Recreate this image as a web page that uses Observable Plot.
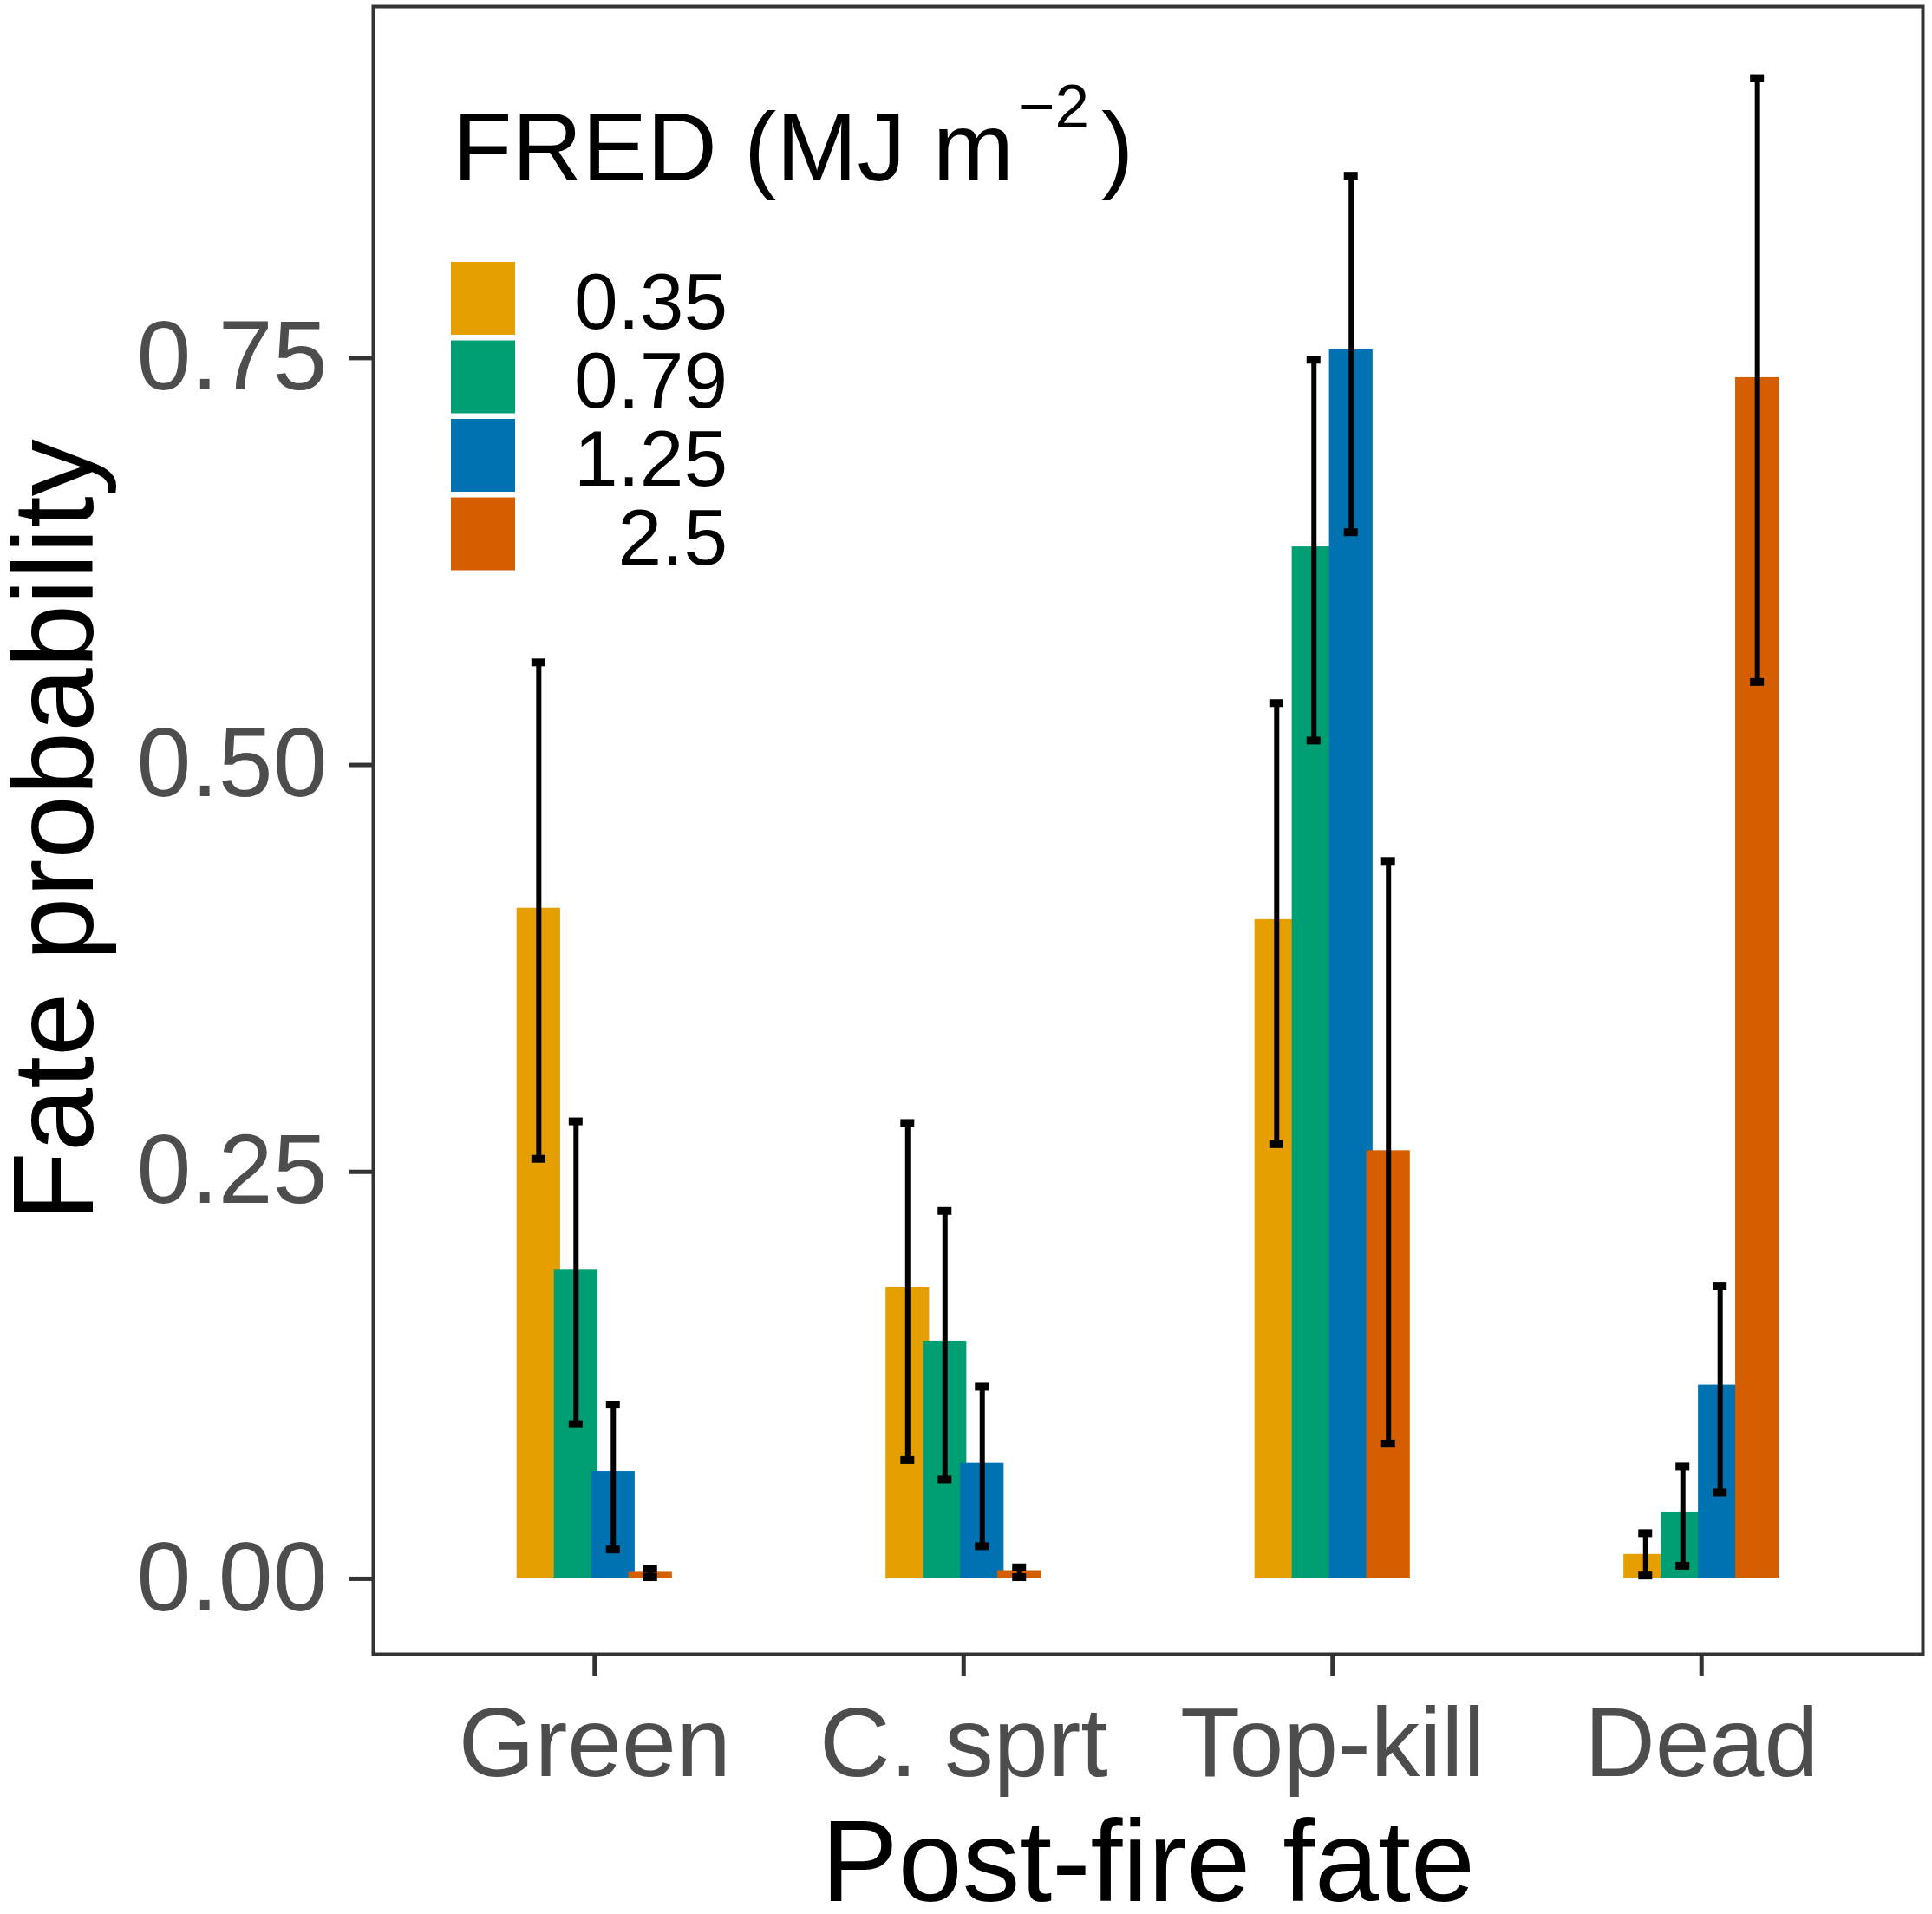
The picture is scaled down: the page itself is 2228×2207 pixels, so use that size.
<!DOCTYPE html>
<html>
<head>
<meta charset="utf-8">
<script src="https://cdn.jsdelivr.net/npm/d3@7"></script>
<script src="https://cdn.jsdelivr.net/npm/@observablehq/plot@0.6"></script>
<style>
  html, body { margin: 0; padding: 0; background: #ffffff; }
  #chart { width: 2228px; height: 2207px; }
  svg { font-family: "Liberation Sans", Arial, sans-serif; }
</style>
</head>
<body>
<div id="chart"></div>
<script>
// ---- Data ----
const categories = ["Green", "C. sprt", "Top-kill", "Dead"];
const fredLevels = ["0.35", "0.79", "1.25", "2.5"];
const fredColors = ["#E69F00", "#009E73", "#0072B2", "#D55E00"];

// Fate probability per FRED level, ordered as categories
const prob035 = [0.412, 0.179, 0.405, 0.015];
const prob079 = [0.190, 0.146, 0.634, 0.041];
const prob125 = [0.066, 0.071, 0.755, 0.119];
const prob250 = [0.004, 0.005, 0.263, 0.738];

// Lower / upper error-bar limits
const lower035 = [0.258, 0.073, 0.267, 0.002];
const upper035 = [0.563, 0.280, 0.538, 0.028];
const lower079 = [0.095, 0.061, 0.515, 0.008];
const upper079 = [0.281, 0.226, 0.749, 0.069];
const lower125 = [0.018, 0.020, 0.643, 0.053];
const upper125 = [0.107, 0.118, 0.862, 0.180];
const lower250 = [0.001, 0.001, 0.083, 0.551];
const upper250 = [0.006, 0.007, 0.441, 0.922];

const yTicks = [0, 0.25, 0.5, 0.75];

// ---- Build table ----
const probs = [prob035, prob079, prob125, prob250];
const lowers = [lower035, lower079, lower125, lower250];
const uppers = [upper035, upper079, upper125, upper250];
const dodgeStep = 0.101;   // dodge spacing (x units)
const barWidth = 0.118;    // bar width (x units), bars overlap slightly like the original

const rows = [];
categories.forEach((cat, ci) => {
  fredLevels.forEach((lev, si) => {
    rows.push({
      category: cat,
      fred: lev,
      pos: ci + (si - (fredLevels.length - 1) / 2) * dodgeStep,
      value: probs[si][ci],
      lo: lowers[si][ci],
      hi: uppers[si][ci]
    });
  });
});

const tickGrey = "#333333";
const textGrey = "#4d4d4d";

const chart = Plot.plot({
  width: 2228,
  height: 2207,
  marginLeft: 430,
  marginRight: 11,
  marginTop: 7,
  marginBottom: 300,
  style: { fontFamily: '"Liberation Sans", Arial, sans-serif', background: "#ffffff" },
  x: { type: "linear", domain: [-0.6, 3.6], axis: null },
  y: { domain: [-0.0464, 0.966], axis: null },
  color: { domain: fredLevels, range: fredColors },
  marks: [
    Plot.rectY(rows, {
      x1: d => d.pos - barWidth / 2,
      x2: d => d.pos + barWidth / 2,
      y1: 0,
      y2: "value",
      fill: "fred"
    }),
    Plot.ruleX(rows, { x: "pos", y1: "lo", y2: "hi", stroke: "#000", strokeWidth: 6 }),
    Plot.ruleY(rows, { x1: "pos", x2: "pos", y: "lo", insetLeft: -8, insetRight: -8, stroke: "#000", strokeWidth: 9 }),
    Plot.ruleY(rows, { x1: "pos", x2: "pos", y: "hi", insetLeft: -8, insetRight: -8, stroke: "#000", strokeWidth: 9 }),
    Plot.frame({ stroke: tickGrey, strokeWidth: 4 }),
    Plot.axisX({
      ticks: [0, 1, 2, 3],
      tickFormat: i => categories[i],
      tickSize: 25,
      tickPadding: 35,
      fontSize: 113,
      stroke: tickGrey,
      strokeWidth: 5,
      fill: textGrey,
      label: null
    }),
    Plot.axisY({
      ticks: yTicks,
      tickFormat: d3.format(".2f"),
      tickSize: 27,
      tickPadding: 26,
      fontSize: 113,
      stroke: tickGrey,
      strokeWidth: 5,
      fill: textGrey,
      label: null
    }),
    Plot.text(["Post-fire fate"], {
      frameAnchor: "bottom",
      dy: 284,
      lineAnchor: "bottom",
      textAnchor: "middle",
      fontSize: 133,
      fill: "#000"
    }),
    Plot.text(["Fate probability"], {
      frameAnchor: "left",
      rotate: -90,
      dx: -324,
      lineAnchor: "bottom",
      textAnchor: "middle",
      fontSize: 132,
      fill: "#000"
    })
  ]
});

// ---- Legend (inside the panel, top-left), colours from the plot's colour scale ----
const colorScale = chart.scale("color");
const svg = d3.select(chart);
const lg = svg.append("g").attr("class", "legend").attr("text-anchor", "start");
const title = lg.append("text")
  .attr("x", 522).attr("y", 208)
  .attr("text-anchor", "start")
  .attr("font-size", 112).attr("fill", "#000");
title.append("tspan").text("FRED (MJ m");
title.append("tspan").attr("font-size", 71).attr("dx", 6).attr("dy", -61).text("\u22122");
title.append("tspan").attr("font-size", 112).attr("dx", 14).attr("dy", 61).text(")");

const keyX = 519, keyY0 = 301, keyStep = 90.5, keyW = 76, keyH = 86;
colorScale.domain.forEach((lev, i) => {
  lg.append("rect")
    .attr("x", keyX).attr("y", keyY0 + i * keyStep)
    .attr("width", keyW).attr("height", keyH)
    .attr("fill", colorScale.apply(lev))
    .attr("stroke", "#ffffff").attr("stroke-width", 2);
  lg.append("text")
    .attr("x", 839).attr("y", keyY0 + i * keyStep + keyH / 2 + 35)
    .attr("text-anchor", "end")
    .attr("font-size", 91).attr("fill", "#000")
    .text(lev);
});

document.getElementById("chart").appendChild(chart);
</script>
</body>
</html>
